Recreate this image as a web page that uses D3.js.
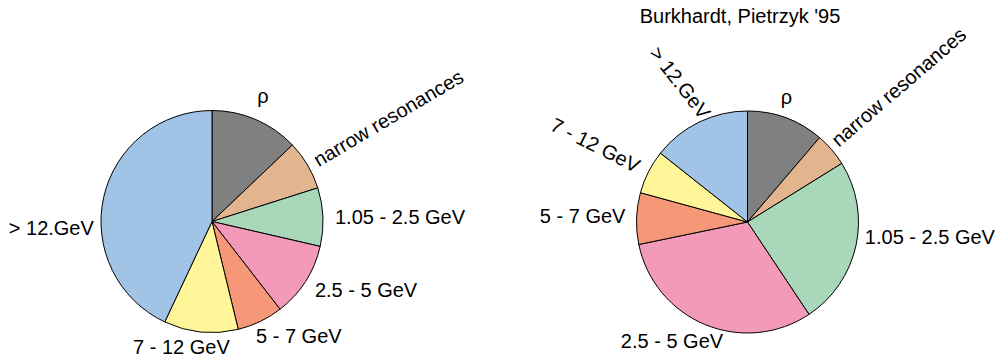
<!DOCTYPE html>
<html>
<head>
<meta charset="utf-8">
<script src="https://cdn.jsdelivr.net/npm/d3@7"></script>
<style>
  html, body { margin: 0; background: #fff; }
  svg { display: block; }
  text { font-family: "Liberation Sans", Arial, Helvetica, sans-serif; font-size: 20px; fill: #000; }
</style>
</head>
<body>
<svg id="chart" width="995" height="362"></svg>
<script>
// Slice categories, clockwise from 12 o'clock
const categories = ["ρ", "narrow resonances", "1.05 - 2.5 GeV", "2.5 - 5 GeV", "5 - 7 GeV", "7 - 12 GeV", "> 12.GeV"];

// Relative contributions (percent) for each pie
const leftValues  = [12.9, 7.2, 8.5, 10.9, 6.7, 10.8, 43.0];
const rightValues = [11.25, 4.9, 24.5, 31.1, 7.5, 6.4, 14.35];

const rightTitle = "Burkhardt, Pietrzyk '95";

const sliceColors = ["#808080", "#E3B58F", "#A8D7BA", "#F39ABA", "#F69878", "#FFF599", "#A1C3E6"];

// Label layout: radial = text follows the slice direction; dx/dy = fine offsets
const leftLabelLayout = {
  "ρ":                 { dx: -3, dy: -13 },
  "narrow resonances": { radial: true, dx: -2, dy: 2 },
  "1.05 - 2.5 GeV":    { dx: 1, dy: 0 },
  "2.5 - 5 GeV":       { dx: 0, dy: 3 },
  "5 - 7 GeV":         { dx: -9, dy: 5 },
  "7 - 12 GeV":        { dx: 30, dy: 4 },
  "> 12.GeV":          { dx: 1, dy: 33 }
};
const rightLabelLayout = {
  "ρ":                 { dx: -9, dy: -10 },
  "narrow resonances": { radial: true, dx: -6, dy: 0 },
  "1.05 - 2.5 GeV":    { dx: -2, dy: -11 },
  "2.5 - 5 GeV":       { dx: 22, dy: 6.5 },
  "5 - 7 GeV":         { dx: 0, dy: -2 },
  "7 - 12 GeV":        { radial: true, dx: 0, dy: 0 },
  "> 12.GeV":          { radial: true, rotate: 52, dx: 12, dy: 4 }
};

const svg = d3.select("#chart");
const radius = 111;

const color = d3.scaleOrdinal().domain(categories).range(sliceColors);

const pie = d3.pie().sort(null).value(d => d.value).startAngle(0).endAngle(2 * Math.PI);
const arc = d3.arc().innerRadius(0).outerRadius(radius);

function drawPie(values, cx, cy, layout) {
  const data = categories.map((c, i) => ({ category: c, value: values[i] }));
  const g = svg.append("g").attr("transform", `translate(${cx},${cy})`);
  const arcs = pie(data);

  g.selectAll("path.slice")
    .data(arcs)
    .join("path")
    .attr("class", "slice")
    .attr("d", arc)
    .attr("fill", d => color(d.data.category))
    .attr("stroke", "#000")
    .attr("stroke-width", 1)
    .attr("stroke-linejoin", "round");

  const labelR = radius * 1.1;
  g.selectAll("text.label")
    .data(arcs)
    .join("text")
    .attr("class", "label")
    .each(function (d) {
      const lay = layout[d.data.category] || {};
      const mid = (d.startAngle + d.endAngle) / 2;
      const s = Math.sin(mid), c = Math.cos(mid);
      const x = labelR * s + (lay.dx || 0);
      const y = -labelR * c + (lay.dy || 0);
      const rightSide = s >= 0;
      let rot = 0;
      if (lay.radial) {
        const deg = mid * 180 / Math.PI;
        rot = lay.rotate !== undefined ? lay.rotate : (rightSide ? deg - 90 : deg - 270);
      }
      d3.select(this)
        .attr("transform", `translate(${x},${y}) rotate(${rot})`)
        .attr("text-anchor", rightSide ? "start" : "end")
        .attr("dy", "0.35em")
        .text(d.data.category);
    });
  return g;
}

drawPie(leftValues, 212, 221.5, leftLabelLayout);
const right = drawPie(rightValues, 747.5, 222, rightLabelLayout);

right.append("text")
  .attr("x", -7.5)
  .attr("y", -199)
  .attr("text-anchor", "middle")
  .text(rightTitle);
</script>
</body>
</html>
